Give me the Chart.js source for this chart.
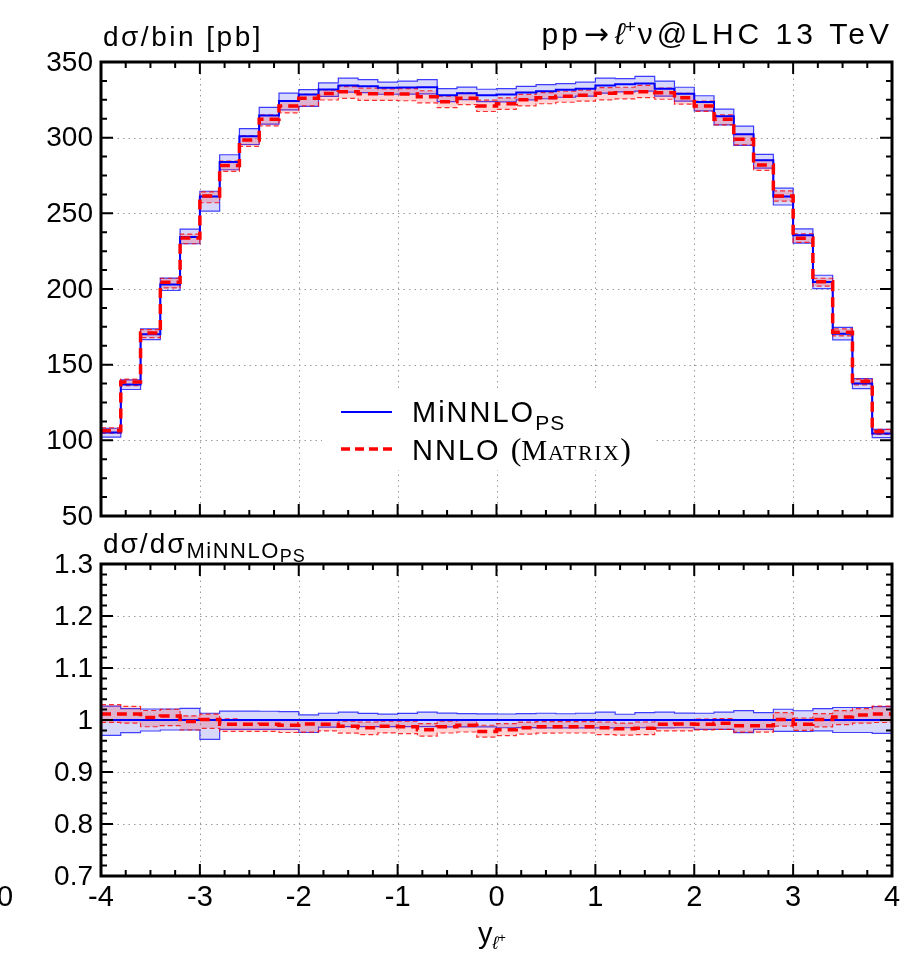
<!DOCTYPE html>
<html>
<head>
<meta charset="utf-8">
<script src="https://cdn.jsdelivr.net/npm/chart.js@4.4.1/dist/chart.umd.min.js"></script>
<style>
  html, body { margin: 0; padding: 0; background: #fff; }
  #wrap { position: relative; width: 910px; height: 958px; }
  .pane { position: absolute; left: 0; }
</style>
</head>
<body>
<div id="wrap">
  <canvas id="topChart" class="pane" style="top:0" width="910" height="528"></canvas>
  <canvas id="ratioChart" class="pane" style="top:528px" width="910" height="430"></canvas>
</div>
<script>
// bin edges of y_l+ (40 bins of 0.2)
const binEdges = [-4.0, -3.8, -3.6, -3.4, -3.2, -3.0, -2.8, -2.6, -2.4, -2.2,
                  -2.0, -1.8, -1.6, -1.4, -1.2, -1.0, -0.8, -0.6, -0.4, -0.2,
                   0.0,  0.2,  0.4,  0.6,  0.8,  1.0,  1.2,  1.4,  1.6,  1.8,
                   2.0,  2.2,  2.4,  2.6,  2.8,  3.0,  3.2,  3.4,  3.6,  3.8, 4.0];

// MiNNLO_PS, central and scale band [pb]
const minnlo = [105.2, 136.9, 170.1, 202.9, 234.4, 261.2, 283.9, 300.9, 314.7, 324.2,
                328.6, 331.9, 334.4, 334.0, 333.0, 333.1, 333.3, 328.1, 329.4, 328.1,
                328.6, 329.9, 330.7, 331.7, 332.4, 334.4, 335.3, 335.8, 332.4, 329.0,
                323.5, 314.1, 302.2, 285.0, 261.2, 235.5, 204.6, 170.5, 137.5, 104.5];
const minnloUp = [108.0, 139.9, 173.7, 207.2, 239.6, 264.6, 288.7, 306.0, 320.0, 329.4,
                  331.8, 336.2, 339.4, 338.3, 336.7, 337.4, 338.3, 332.4, 333.4, 332.0,
                  332.4, 333.9, 335.0, 335.7, 336.7, 339.4, 339.0, 340.5, 337.4, 333.3,
                  327.7, 318.8, 307.6, 289.0, 266.6, 239.7, 209.1, 174.6, 140.8, 107.2];
const minnloDn = [102.1, 133.6, 166.5, 199.0, 229.9, 251.5, 278.8, 295.5, 309.0, 318.4,
                  320.7, 327.3, 330.1, 329.7, 328.7, 328.8, 329.0, 323.8, 325.1, 323.8,
                  323.7, 325.0, 325.7, 326.7, 327.4, 329.4, 330.3, 330.8, 327.4, 324.1,
                  317.7, 308.4, 294.9, 279.9, 255.5, 230.3, 200.3, 166.4, 134.2, 101.8];

// NNLO (MATRIX), central and scale band [pb]
const nnlo = [106.4, 138.5, 170.9, 204.5, 233.7, 261.5, 281.6, 298.5, 312.2, 321.0,
              326.0, 329.2, 330.4, 329.0, 329.0, 328.8, 327.0, 323.8, 326.1, 320.9,
              322.4, 325.0, 326.4, 327.4, 328.1, 329.4, 329.6, 330.4, 329.7, 326.4,
              320.9, 312.2, 298.9, 281.9, 261.5, 233.6, 204.8, 171.5, 138.8, 105.7];
const nnloUp = [108.3, 140.5, 173.2, 207.1, 236.3, 264.2, 284.5, 301.2, 315.0, 324.5,
                328.6, 331.6, 333.7, 332.7, 332.3, 332.4, 331.0, 327.4, 329.4, 324.8,
                326.3, 328.6, 329.7, 330.7, 331.4, 333.1, 333.3, 334.5, 332.7, 329.3,
                324.1, 315.0, 302.2, 285.0, 264.9, 236.4, 207.1, 173.6, 140.5, 107.3];
const nnloDn = [104.7, 136.1, 167.9, 200.7, 229.9, 257.0, 277.7, 294.3, 307.8, 316.4,
                321.0, 324.9, 326.0, 324.6, 324.7, 324.4, 323.0, 319.9, 321.8, 317.3,
                318.7, 321.0, 322.4, 323.4, 324.1, 325.0, 325.6, 326.4, 325.4, 322.1,
                317.4, 308.4, 295.2, 278.4, 258.1, 230.8, 201.9, 169.0, 136.7, 104.0];

// tick labels
const xTicks = [-4, -3, -2, -1, 0, 1, 2, 3, 4];
const yTicksTop = [50, 100, 150, 200, 250, 300, 350];
const yTicksRatio = [0.7, 0.8, 0.9, 1, 1.1, 1.2, 1.3];

const SANS = '"Liberation Sans", Arial, "DejaVu Sans", sans-serif';
const SERIF = '"Liberation Serif", "Times New Roman", serif';

// histogram points, last edge repeats the last bin
function steps(vals) {
  return binEdges.map((x, i) => ({ x: x, y: vals[Math.min(i, vals.length - 1)] }));
}
function ratio(vals) {
  return vals.map((v, i) => v / minnlo[i]);
}

function datasets(c, up, dn, cN, upN, dnN) {
  const st = 'before';
  return [
    { data: steps(up), borderColor: 'rgba(0,0,255,0.75)', borderWidth: 1.2, stepped: st,
      fill: '+1', backgroundColor: 'rgba(60,60,230,0.2)', order: 5 },
    { data: steps(dn), borderColor: 'rgba(0,0,255,0.75)', borderWidth: 1.2, stepped: st,
      fill: false, order: 5 },
    { data: steps(upN), borderColor: 'rgba(255,0,0,0.8)', borderWidth: 1.2, borderDash: [5, 3],
      stepped: st, fill: '+1', backgroundColor: 'rgba(255,0,0,0.17)', order: 3 },
    { data: steps(dnN), borderColor: 'rgba(255,0,0,0.8)', borderWidth: 1.2, borderDash: [5, 3],
      stepped: st, fill: false, order: 3 },
    { data: steps(c), borderColor: '#0000ff', borderWidth: 2, stepped: st, fill: false, order: 1 },
    { data: steps(cN), borderColor: '#ff0000', borderWidth: 3.5, borderDash: [10, 6],
      stepped: st, fill: false, order: 0 }
  ];
}

// draw text made of pieces with different fonts / offsets
function rich(ctx, x, y, parts, align) {
  let w = 0;
  parts.forEach(p => {
    ctx.font = p.font; ctx.letterSpacing = (p.ls || 0) + 'px';
    w += ctx.measureText(p.t).width + (p.gap || 0);
  });
  let cx = align === 'right' ? x - w : x;
  ctx.textAlign = 'left';
  ctx.textBaseline = 'alphabetic';
  parts.forEach(p => {
    ctx.font = p.font; ctx.letterSpacing = (p.ls || 0) + 'px';
    ctx.fillText(p.t, cx, y + (p.dy || 0));
    cx += ctx.measureText(p.t).width + (p.gap || 0);
  });
  ctx.letterSpacing = '0px';
}

function decor(cfg) {
  return {
    id: 'decor',
    beforeDatasetsDraw(chart) {
      const ctx = chart.ctx, a = chart.chartArea, sx = chart.scales.x, sy = chart.scales.y;
      ctx.save();
      ctx.strokeStyle = '#9a9a9a';
      ctx.lineWidth = 1;
      ctx.setLineDash([1.5, 4]);
      xTicks.slice(1, -1).forEach(v => {
        const px = Math.round(sx.getPixelForValue(v)) + 0.5;
        ctx.beginPath(); ctx.moveTo(px, a.top); ctx.lineTo(px, a.bottom); ctx.stroke();
      });
      cfg.yTicks.slice(1, -1).forEach(v => {
        const py = Math.round(sy.getPixelForValue(v)) + 0.5;
        ctx.beginPath(); ctx.moveTo(a.left, py); ctx.lineTo(a.right, py); ctx.stroke();
      });
      ctx.setLineDash([]);
      if (cfg.legend) {
        ctx.fillStyle = '#fff';
        ctx.fillRect(322, 390, 331, 80);
      }
      ctx.restore();
    },
    afterDatasetsDraw(chart) {
      const ctx = chart.ctx, a = chart.chartArea, sx = chart.scales.x, sy = chart.scales.y;
      ctx.save();
      ctx.strokeStyle = '#000';
      // minor + major ticks, pointing inwards on all four sides
      ctx.lineWidth = 2;
      const tick = (px, len, vertical) => {
        ctx.beginPath();
        if (vertical) {
          ctx.moveTo(px, a.bottom); ctx.lineTo(px, a.bottom - len);
          ctx.moveTo(px, a.top); ctx.lineTo(px, a.top + len);
        } else {
          ctx.moveTo(a.left, px); ctx.lineTo(a.left + len, px);
          ctx.moveTo(a.right, px); ctx.lineTo(a.right - len, px);
        }
        ctx.stroke();
      };
      for (let v = -4; v <= 4.0001; v += 0.25) {
        const major = Math.abs(v - Math.round(v)) < 1e-6;
        tick(sx.getPixelForValue(v), major ? 12 : 6, true);
      }
      const yMin = cfg.yTicks[0], yMax = cfg.yTicks[cfg.yTicks.length - 1];
      const nMinor = Math.round((yMax - yMin) / cfg.minor);
      for (let k = 0; k <= nMinor; k++) {
        const v = yMin + k * cfg.minor;
        const major = k % cfg.perMajor === 0;
        tick(sy.getPixelForValue(v), major ? 12 : 6, false);
      }
      ctx.lineWidth = 3;
      ctx.strokeRect(a.left, a.top, a.right - a.left, a.bottom - a.top);

      // y tick labels
      ctx.fillStyle = '#000';
      ctx.font = '28px ' + SANS;
      ctx.textAlign = 'right';
      ctx.textBaseline = 'middle';
      cfg.yTicks.forEach(v => {
        ctx.fillText(String(v), a.left - 8, sy.getPixelForValue(v) + 1);
      });

      if (cfg.xLabels) {
        ctx.font = '29px ' + SANS;
        ctx.textAlign = 'center';
        ctx.textBaseline = 'middle';
        xTicks.forEach(v => {
          ctx.fillText(String(v), sx.getPixelForValue(v), a.bottom + 22);
        });
        ctx.textAlign = 'left';
        ctx.fillText('0', -3, a.bottom + 22);
        rich(ctx, 478, a.bottom + 67, [
          { t: 'y', font: '29px ' + SANS },
          { t: '\u2113', font: 'italic 18px ' + SANS, dy: 6 },
          { t: '+', font: '13px ' + SANS, dy: -1 }
        ]);
      }
      cfg.titles(ctx, a);
      if (cfg.legend) {
        ctx.lineWidth = 2;
        ctx.strokeStyle = '#0000ff';
        ctx.beginPath(); ctx.moveTo(341, 412); ctx.lineTo(392, 412); ctx.stroke();
        ctx.strokeStyle = '#ff0000';
        ctx.lineWidth = 3.5;
        ctx.setLineDash([9, 5]);
        ctx.beginPath(); ctx.moveTo(341, 449); ctx.lineTo(392, 449); ctx.stroke();
        ctx.setLineDash([]);
        ctx.fillStyle = '#000';
        rich(ctx, 412, 422, [
          { t: 'MiNNLO', font: '29px ' + SANS, ls: 2 },
          { t: 'PS', font: '21px ' + SANS, dy: 8, ls: 1 }
        ]);
        rich(ctx, 412, 460, [
          { t: 'NNLO ', font: '29px ' + SANS, ls: 2 },
          { t: '(', font: '32px ' + SERIF },
          { t: 'M', font: '29px ' + SERIF, ls: 1 },
          { t: 'ATRIX', font: '22px ' + SERIF, ls: 1.5 },
          { t: ')', font: '32px ' + SERIF }
        ]);
      }
      ctx.restore();
    }
  };
}

function makeChart(id, sets, yMin, yMax, pad, cfg) {
  return new Chart(document.getElementById(id), {
    type: 'line',
    data: { datasets: sets },
    options: {
      responsive: false,
      animation: false,
      events: [],
      layout: { padding: pad },
      plugins: { legend: { display: false }, tooltip: { enabled: false } },
      scales: {
        x: { type: 'linear', min: -4, max: 4, display: false },
        y: { type: 'linear', min: yMin, max: yMax, display: false }
      },
      elements: { point: { radius: 0 }, line: { tension: 0 } }
    },
    plugins: [decor(cfg)]
  });
}

makeChart('topChart',
  datasets(minnlo, minnloUp, minnloDn, nnlo, nnloUp, nnloDn),
  50, 350, { left: 101, right: 18, top: 62, bottom: 12 },
  {
    yTicks: yTicksTop, minor: 12.5, perMajor: 4, legend: true,
    titles(ctx, a) {
      ctx.fillStyle = '#000';
      rich(ctx, 103, 46, [{ t: 'd\u03c3/bin [pb]', font: '28px ' + SANS, ls: 2.5 }]);
      rich(ctx, 893, 44, [
        { t: 'pp', font: '30px ' + SANS, ls: 3, gap: 3 },
        { t: '\u2192', font: '30px "DejaVu Sans", sans-serif', gap: 6 },
        { t: '\u2113', font: 'italic 30px ' + SANS },
        { t: '+', font: '19px ' + SANS, dy: -11, gap: 2 },
        { t: '\u03bd@LHC 13 TeV', font: '30px ' + SANS, ls: 4 }
      ], 'right');
    }
  });

makeChart('ratioChart',
  datasets(ratio(minnlo), ratio(minnloUp), ratio(minnloDn), ratio(nnlo), ratio(nnloUp), ratio(nnloDn)),
  0.7, 1.3, { left: 101, right: 18, top: 36, bottom: 82 },
  {
    yTicks: yTicksRatio, minor: 0.02, perMajor: 5, xLabels: true,
    titles(ctx, a) {
      ctx.fillStyle = '#000';
      rich(ctx, 103, 25, [
        { t: 'd\u03c3/d\u03c3', font: '28px ' + SANS, ls: 2 },
        { t: 'MiNNLO', font: '22px ' + SANS, dy: 5, ls: 1.5 },
        { t: 'PS', font: '18px ' + SANS, dy: 9, ls: 1 }
      ]);
    }
  });
</script>
</body>
</html>
